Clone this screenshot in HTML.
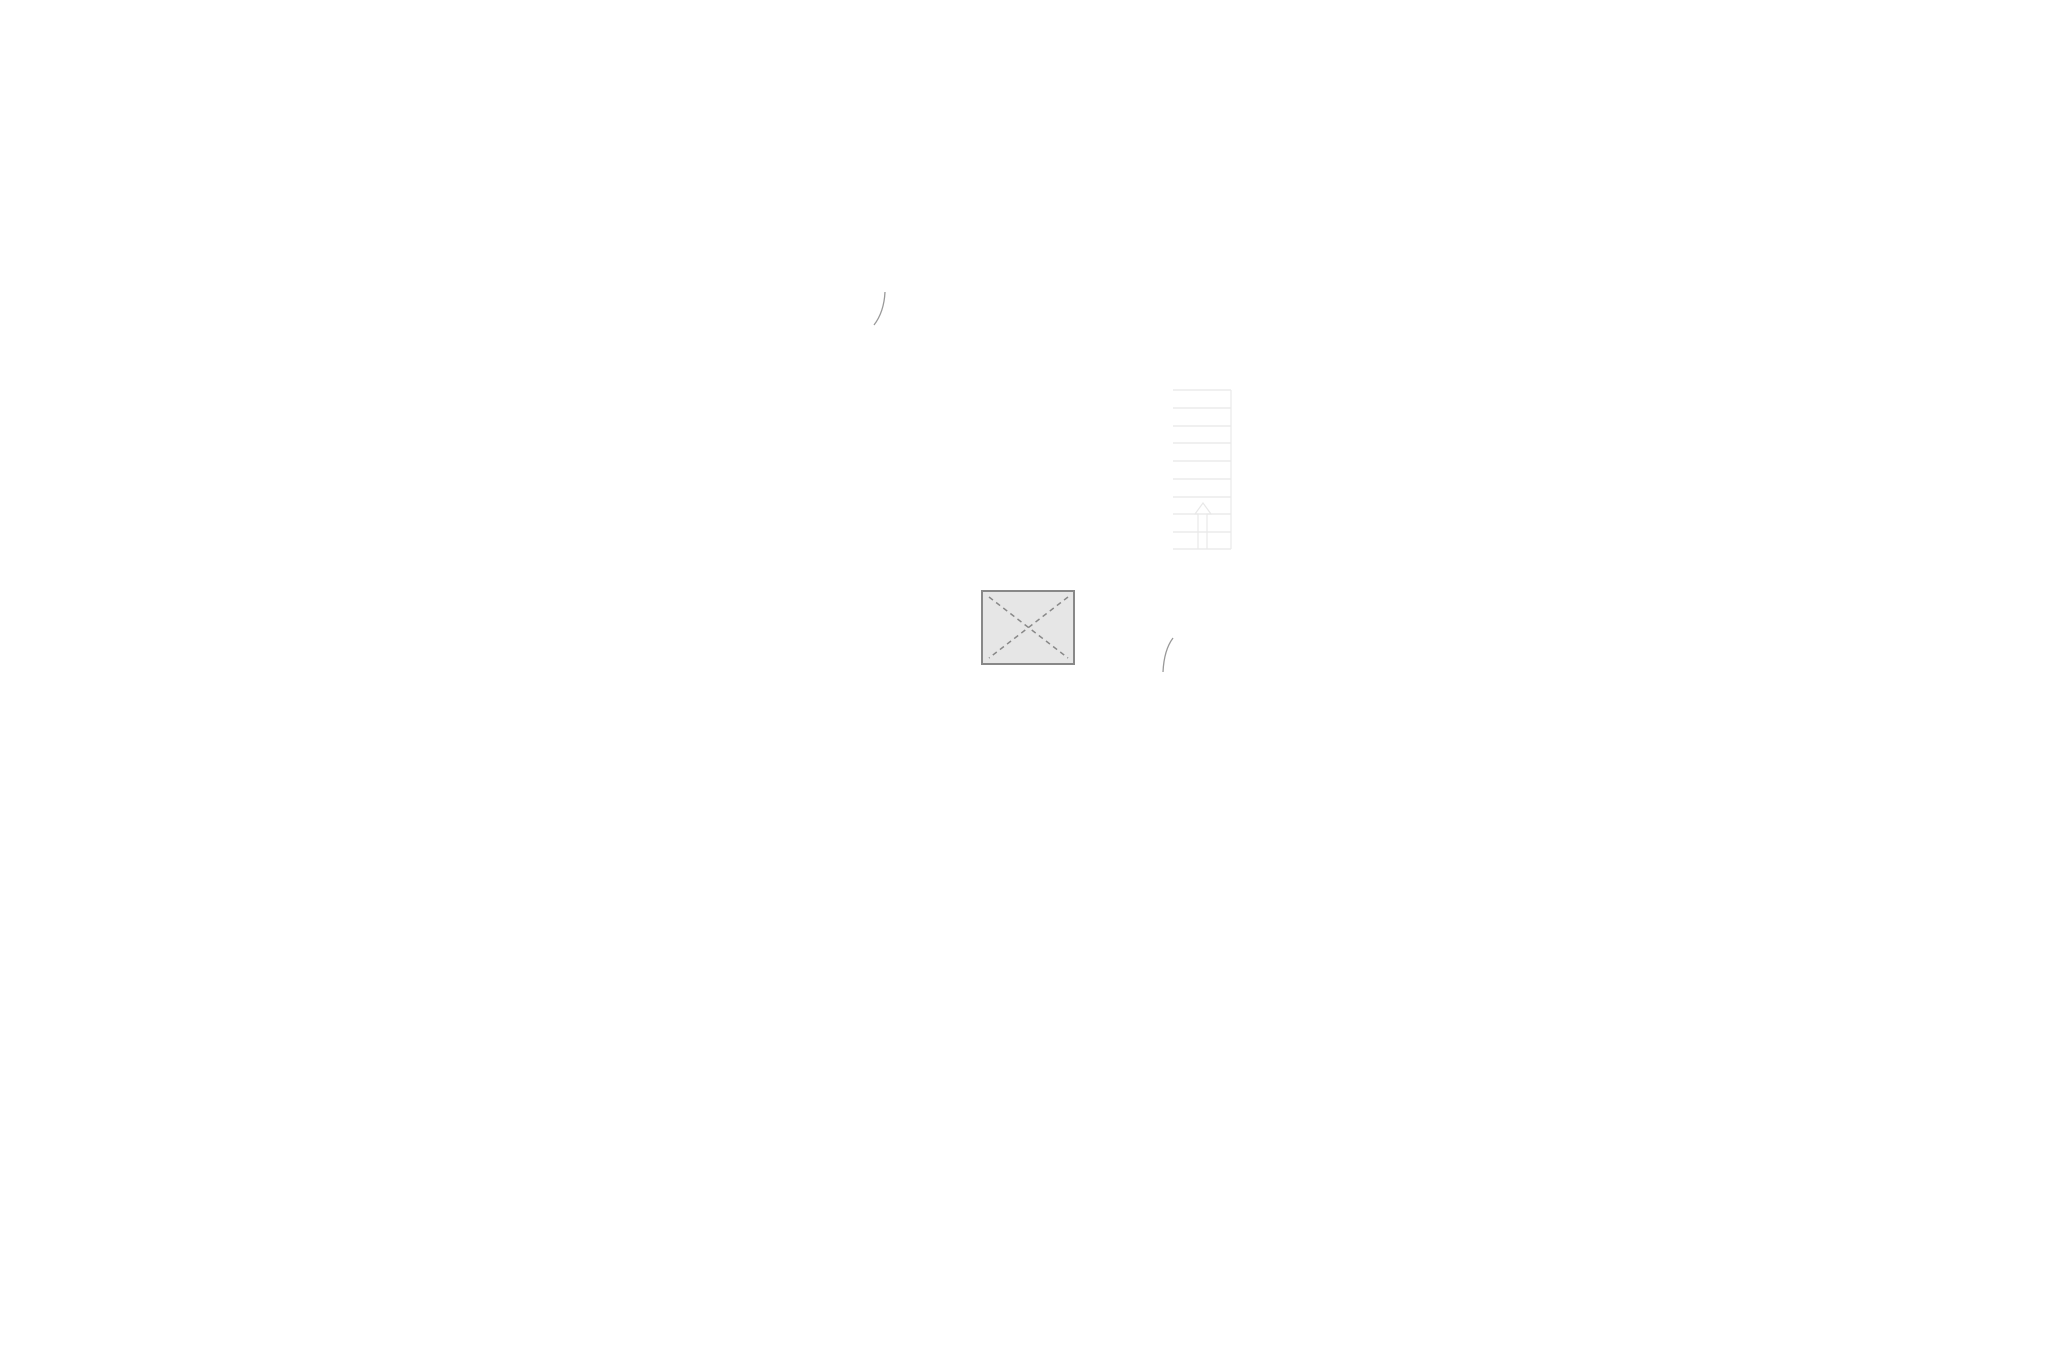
<!DOCTYPE html>
<html><head><meta charset="utf-8"><style>html,body{margin:0;padding:0;background:#fff;width:2057px;height:1371px;overflow:hidden}</style></head>
<body>
<svg width="2057" height="1371" xmlns="http://www.w3.org/2000/svg">
<rect width="2057" height="1371" fill="#fff"/>
<path d="M885 292 Q884 312 874 325" fill="none" stroke="#999" stroke-width="1.3"/>
<path d="M1173 638 Q1164 650 1163 672" fill="none" stroke="#999" stroke-width="1.3"/>
<g stroke="#e8e8e8" stroke-width="1.2" fill="none">
<line x1="1231" y1="390" x2="1231" y2="549"/>
<line x1="1173" y1="390" x2="1231" y2="390"/>
<line x1="1173" y1="408" x2="1231" y2="408"/>
<line x1="1173" y1="426" x2="1231" y2="426"/>
<line x1="1173" y1="443" x2="1231" y2="443"/>
<line x1="1173" y1="461" x2="1231" y2="461"/>
<line x1="1173" y1="479" x2="1231" y2="479"/>
<line x1="1173" y1="497" x2="1231" y2="497"/>
<line x1="1173" y1="514" x2="1231" y2="514"/>
<line x1="1173" y1="532" x2="1231" y2="532"/>
<line x1="1173" y1="549" x2="1231" y2="549"/>
<path d="M1198 549 L1198 514 L1195 514 L1203 503 L1211 514 L1207 514 L1207 549"/>
</g>
<rect x="982" y="591" width="92" height="73" fill="#e6e6e6" stroke="#888" stroke-width="2"/>
<g stroke="#888" stroke-width="1.5" stroke-dasharray="5,4">
<line x1="989" y1="597" x2="1068" y2="658"/>
<line x1="1068" y1="597" x2="989" y2="658"/>
</g>
</svg>
</body></html>
